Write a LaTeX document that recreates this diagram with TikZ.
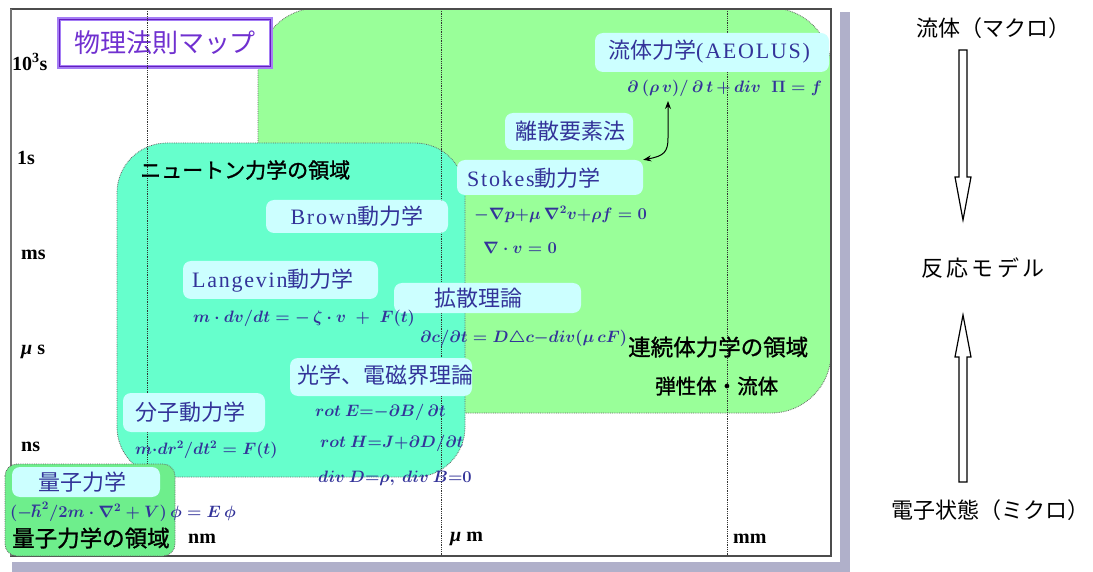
\RequirePackage{fix-cm}
\documentclass[tikz,border=0pt]{standalone}
\usepackage{fontspec}
\setmainfont{Liberation Serif}
\newfontfamily\jp{Noto Sans CJK JP}
\newfontfamily\jpb[FakeBold=1.2]{Noto Sans CJK JP}
\newfontfamily\jpw[LetterSpace=14]{Noto Sans CJK JP}
\newfontfamily\lat[LetterSpace=8]{Liberation Serif}
\usetikzlibrary{arrows.meta}

\definecolor{cgreen}{RGB}{153,255,153}
\definecolor{cteal}{RGB}{102,255,204}
\definecolor{cqgreen}{RGB}{110,238,140}
\definecolor{clbl}{RGB}{204,255,255}
\definecolor{cblue}{RGB}{51,51,153}
\definecolor{cpurple}{RGB}{112,48,208}
\definecolor{cpurpleA}{RGB}{165,125,245}
\definecolor{cpurpleB}{RGB}{100,30,190}
\definecolor{cshadow}{RGB}{176,176,202}

\tikzset{
  region/.style={draw=black!60, densely dotted, line width=0.8pt},
  lblbox/.style={fill=clbl, rounded corners=8pt, inner sep=0pt},
  lbltxt/.style={text=cblue, font=\fontsize{22}{24}\selectfont\jp, inner sep=0pt},
  formula/.style={text=cblue, font=\fontsize{16.5}{19}\selectfont\boldmath, inner sep=0pt, anchor=west},
  blk/.style={text=black, inner sep=0pt, anchor=west},
  axislbl/.style={font=\fontsize{20}{22}\selectfont\bfseries, inner sep=0pt, anchor=west},
  gridline/.style={densely dotted, line width=0.8pt, black!80},
  hollow/.style={draw=black, line width=1.2pt, fill=white},
  sidelbl/.style={font=\fontsize{22}{24}\selectfont\jp, inner sep=0pt}
}

\begin{document}
\begin{tikzpicture}[x=1pt,y=-1pt]
\useasboundingbox (0,0) rectangle (1093,572);
\fill[white] (0,0) rectangle (1093,572);

% shadow
\fill[cshadow] (840,12) rectangle (850,572);
\fill[cshadow] (12,562) rectangle (850,572);

% regions
\begin{scope}
\clip (11,9) rectangle (831,556);
\path[region, fill=cgreen, rounded corners=60pt] (258,8) rectangle (831,413);
\path[region, fill=cteal, rounded corners=50pt] (117,143) rectangle (465,477);
\end{scope}

% title
\node[fill=white, draw=cpurpleA, line width=4pt, minimum width=212pt, minimum height=48pt,
      text=cpurple, font=\fontsize{26}{28}\selectfont\jp, inner sep=0pt] (title) at (165,43) {物理法則マップ};
\draw[cpurpleB, line width=1.2pt] ([shift={(2.5,2.5)}]title.north west) rectangle ([shift={(-2.5,-2.5)}]title.south east);

% grid lines
\draw[gridline] (147,9) -- (147,556);
\draw[gridline] (441,9) -- (441,556);
\draw[gridline] (727,9) -- (727,556);

% frame
\draw[black!70, line width=1.2pt] (11,9) rectangle (831,556);
\draw[black!55, line width=2.5pt] (11,9) -- (11,556);

% quantum region
\path[region, fill=cqgreen, rounded corners=12pt] (5,464) rectangle (175,556);

% axis labels
\node[axislbl] (t3) at (12,62) {10\textsuperscript{3}s};
\node[axislbl] (t1) at (17,158) {1s};
\node[axislbl] (tms) at (21,255) {ms};
\node[axislbl] (tus) at (21,352) {{\itshape μ} s};
\node[axislbl] (tns) at (21,447) {ns};
\node[axislbl] (xnm) at (188,539) {nm};
\node[axislbl] (xum) at (450,539) {{\itshape μ} m};
\node[axislbl] (xmm) at (733,539) {mm};

% label boxes
\node[lblbox, minimum width=148pt, minimum height=30pt] (bRyoshi) at (86,482) {};
\node[lbltxt] (tRyoshi) at (82,482) {量子力学};

\node[lblbox, minimum width=142pt, minimum height=39pt] (bBunshi) at (194,412.5) {};
\node[lbltxt] (tBunshi) at (190,412) {分子動力学};

\node[lblbox, minimum width=182pt, minimum height=38pt] (bKogaku) at (381,377) {};
\node[lbltxt] (tKogaku) at (385,375) {光学、電磁界理論};

\node[lblbox, minimum width=195pt, minimum height=38pt] (bLang) at (280.5,280) {};
\node[lbltxt, anchor=west] (tLang) at (192,281) {{\lat Langevin}動力学};

\node[lblbox, minimum width=182pt, minimum height=33pt] (bBrown) at (357,216.5) {};
\node[lbltxt] (tBrown) at (357,216) {{\lat Brown}動力学};

\node[lblbox, minimum width=187pt, minimum height=30pt] (bKaku) at (487.5,298) {};
\node[lbltxt] (tKaku) at (478,298) {拡散理論};

\node[lblbox, minimum width=186pt, minimum height=35pt] (bStokes) at (550,177.5) {};
\node[lbltxt, anchor=west] (tStokes) at (467,178) {{\lat Stokes}動力学};

\node[lblbox, minimum width=128pt, minimum height=37pt] (bRishan) at (569,131.5) {};
\node[lbltxt] (tRishan) at (570,131) {離散要素法};

\node[lblbox, minimum width=234pt, minimum height=39pt] (bAeolus) at (712,52.5) {};
\node[lbltxt, anchor=west] (tAeolus) at (608,52) {流体力学{\lat (AEOLUS)}};

% formulas
\node[formula] (fAe) at (627,88) {$\partial\,(\rho\,v)/\,\partial\,t\,{+}\,div\;\;\Pi = f$};
\node[formula] (fS1) at (474,214) {$-\nabla p{+}\mu\,\nabla^{2}v{+}\rho f = 0$};
\node[formula] (fS2) at (483,248) {$\nabla\cdot v = 0$};
\node[formula] (fK) at (420,338) {$\partial c/\partial t = D\triangle c{-}div(\mu\,cF)$};
\node[formula] (fL) at (193,318) {$m\cdot dv/dt = -\,\zeta\cdot v\;+\;F(t)$};
\node[formula] (fB) at (135,450) {$m{\cdot}dr^{2}/dt^{2} = F(t)$};
\node[formula] (fQ) at (10,512) {$(-\hbar^{2}/2m\cdot\nabla^{2}+V)\,\phi = E\,\phi$};
\node[formula] (fE1) at (315,412) {$rot\ E{=}{-}\partial B/\,\partial t$};
\node[formula] (fE2) at (320,443) {$rot\ H{=}J{+}\partial D/\partial t$};
\node[formula] (fE3) at (318,478) {$div\ D{=}\rho,\ div\ B{=}0$};

% region labels
\node[blk, font=\fontsize{21}{23}\selectfont\jpb] (lNewton) at (140,170) {ニュートン力学の領域};
\node[blk, font=\fontsize{22.5}{24}\selectfont\jpb] (lRenzoku) at (628,347) {連続体力学の領域};
\node[blk, font=\fontsize{20.5}{23}\selectfont\jpb] (lDansei) at (655,386) {弾性体・流体};
\node[blk, font=\fontsize{22.5}{24}\selectfont\jpb] (lRyoshi) at (12,538) {量子力学の領域};

% curved arrow
\coordinate (aeTip) at (668,101);
\draw[{Stealth[length=8pt,width=6pt]}-{Stealth[length=8pt,width=6pt]}, line width=1pt]
  (bStokes.north east) .. controls (664,156) and (668,152) .. (668,138) -- (aeTip);

% right side
\node[sidelbl] (macro) at (993,28) {流体（マクロ）};
\node[sidelbl, font=\fontsize{22}{24}\selectfont\jpw] (model) at (983,268) {反応モデル};
\node[sidelbl] (micro) at (990,510) {電子状態（ミクロ）};
\draw[hollow] (959,50) -- (967,50) -- (967,177) -- (971,177) -- (963,220) -- (955,177) -- (959,177) -- cycle;
\draw[hollow] (959,482) -- (967,482) -- (967,357) -- (971,357) -- (963,315) -- (955,357) -- (959,357) -- cycle;
\end{tikzpicture}
\end{document}
